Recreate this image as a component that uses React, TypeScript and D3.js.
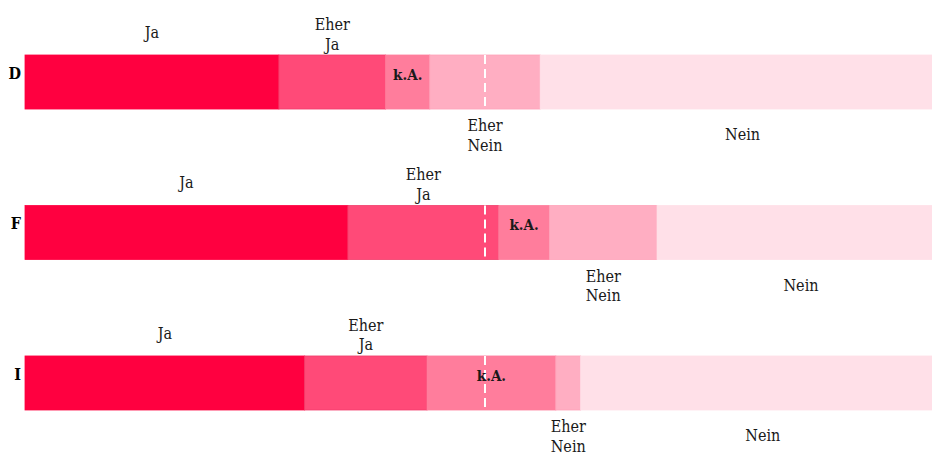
import { useEffect, useRef } from 'react'
import * as d3 from 'd3'

const countries = ['D', 'F', 'I']
const answers = ['Ja', 'Eher Ja', 'k.A.', 'Eher Nein', 'Nein']
const valuesD = [27.6, 11.6, 4.8, 12.0, 44.0]
const valuesF = [35.1, 16.4, 5.5, 11.7, 31.3]
const valuesI = [30.4, 13.3, 14.0, 2.7, 39.6]
const seriesValues = [valuesD, valuesF, valuesI]

const COLORS = ['#ff0040', '#ff4a78', '#ff7d9c', '#ffaec2', '#ffe0e8']
const STROKES = ['#ff0040', '#f23d6b', '#ff7d9c', '#ffa3ba', '#ffe0e8']
// where each answer label sits relative to its segment
const PLACE = ['top', 'top', 'inside', 'bottom', 'bottom']

const W = 932
const H = 455
const FONT = '"DejaVu Serif Condensed", "DejaVu Serif", serif'

export default function App() {
  const svgRef = useRef<SVGSVGElement>(null)

  useEffect(() => {
    if (!svgRef.current) return
    const svg = d3.select(svgRef.current)
    svg.selectAll('*').remove()

    const x = d3.scaleLinear().domain([0, 100]).range([25, 945])
    const y = d3.scaleBand().domain(countries).range([55, 410]).paddingInner(0.641).paddingOuter(0)
    const bh = y.bandwidth()

    countries.forEach((c, ci) => {
      const vals = seriesValues[ci]
      const starts = vals.map((_, i) => d3.sum(vals.slice(0, i)))
      const top = y(c)!
      const g = svg.append('g')

      g.selectAll('rect')
        .data(vals)
        .join('rect')
        .attr('x', (_, i) => x(starts[i]))
        .attr('y', top)
        .attr('width', (d) => x(d) - x(0))
        .attr('height', bh)
        .attr('fill', (_, i) => COLORS[i])
        .attr('stroke', (_, i) => STROKES[i])
        .attr('stroke-width', 0.8)

      // 50% marker
      g.append('line')
        .attr('x1', x(50)).attr('x2', x(50))
        .attr('y1', top).attr('y2', top + bh)
        .attr('stroke', '#fff').attr('stroke-width', 2)
        .attr('stroke-dasharray', '9,5')

      g.append('text')
        .attr('x', 21).attr('y', top + 24)
        .attr('text-anchor', 'end')
        .style('font-family', FONT).style('font-size', '16px').style('font-weight', 'bold')
        .attr('fill', '#000')
        .text(c)

      vals.forEach((v, i) => {
        const cx = x(starts[i] + v / 2)
        const words = answers[i].split(' ')
        const t = g.append('text')
          .attr('text-anchor', 'middle')
          .style('font-family', FONT).style('font-size', '16px')
          .attr('fill', '#1a1a1a')
        let baseY: number
        if (PLACE[i] === 'top') baseY = words.length > 1 ? top - 25 : top - 17
        else if (PLACE[i] === 'inside') baseY = top + 25
        else baseY = words.length > 1 ? top + bh + 22 : top + bh + 31
        if (PLACE[i] === 'inside') t.style('font-weight', '600').style('font-size', '15px')
        words.forEach((w, wi) => {
          t.append('tspan').attr('x', cx).attr('y', baseY + wi * 19.5).text(w)
        })
      })
    })
  }, [])

  return (
    <svg
      ref={svgRef}
      width={W}
      height={H}
      style={{ position: 'absolute', left: 0, top: 0, display: 'block', overflow: 'hidden' }}
    />
  )
}
